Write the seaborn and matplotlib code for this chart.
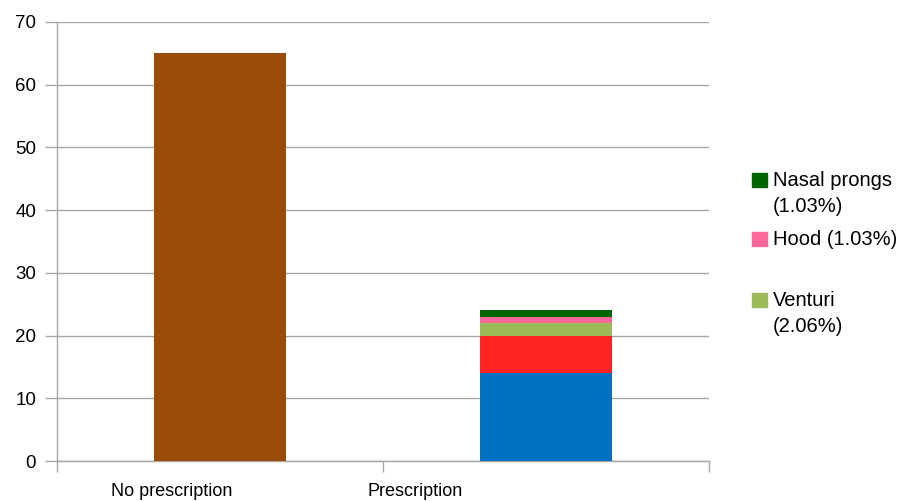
import numpy as np
import pandas as pd
import matplotlib
matplotlib.use("Agg")
import matplotlib.pyplot as plt
from matplotlib.patches import Rectangle
import seaborn as sns

# data
categories = ["No prescription", "Prescription"]
layer_names = ["No prescription", "Segment 1", "Segment 2", "Venturi", "Hood", "Nasal prongs"]
layer_values = [
    [65, 0],
    [0, 14],
    [0, 6],
    [0, 2],
    [0, 1],
    [0, 1],
]
layer_colors = ["#994c07", "#0070c0", "#ff2222", "#9bbb59", "#ff6699", "#006400"]
legend_lines = [["Nasal prongs", "(1.03%)"], ["Hood (1.03%)"], ["Venturi", "(2.06%)"]]
legend_colors = ["#006400", "#ff6699", "#9bbb59"]
yticks = [0, 10, 20, 30, 40, 50, 60, 70]

sns.set_style("white")
plt.rcParams["font.family"] = ["Liberation Sans", "DejaVu Sans"]
plt.rcParams["text.color"] = "black"

fig = plt.figure(figsize=(9.06, 5.01), dpi=100)
ax = fig.add_axes([57 / 906, 1 - 461 / 501, (709 - 57) / 906, (461 - 22) / 501])

cum = np.cumsum(np.array(layer_values), axis=0)
# draw from top of stack down so lower layers cover the upper totals
for i in range(len(layer_names) - 1, -1, -1):
    df = pd.DataFrame({"cat": categories, "val": cum[i]})
    sns.barplot(data=df, x="cat", y="val", order=categories, color=layer_colors[i],
                saturation=1, width=0.405, linewidth=0, ax=ax, zorder=3)

ax.set_xlim(-0.5, 1.5)
ax.set_ylim(0, 70)
ax.set_yticks(yticks)
ax.set_xlabel("")
ax.set_ylabel("")
ax.yaxis.grid(True, color="#a6a6a6", linewidth=1)
ax.set_axisbelow(True)
for s in ["top", "right"]:
    ax.spines[s].set_visible(False)
for s in ["left", "bottom"]:
    ax.spines[s].set_color("#a6a6a6")
    ax.spines[s].set_linewidth(1)

ax.tick_params(axis="y", length=9, color="#a6a6a6", width=1, labelsize=13.5, pad=6,
               left=True, labelcolor="black")
ax.set_xticks([-0.5, 0.5, 1.5], minor=True)
ax.tick_params(axis="x", which="minor", length=8, color="#a6a6a6", width=1, bottom=True)
ax.set_xticks([-0.147, 0.6])
ax.set_xticklabels(categories)
ax.tick_params(axis="x", which="major", length=0, labelsize=13, pad=15.5, labelcolor="black")

# legend, drawn by hand to keep markers on the first text line
base_y = [186, 245, 306]
for lines, col, y in zip(legend_lines, legend_colors, base_y):
    fig.patches.append(Rectangle((752 / 906, 1 - (y + 1) / 501), 15 / 906, 14 / 501,
                                 transform=fig.transFigure, color=col, figure=fig))
    for k, line in enumerate(lines):
        fig.text(773 / 906, 1 - (y + 26 * k) / 501, line, ha="left", va="baseline",
                 fontsize=14.5)

fig.savefig("out.png", dpi=100)
